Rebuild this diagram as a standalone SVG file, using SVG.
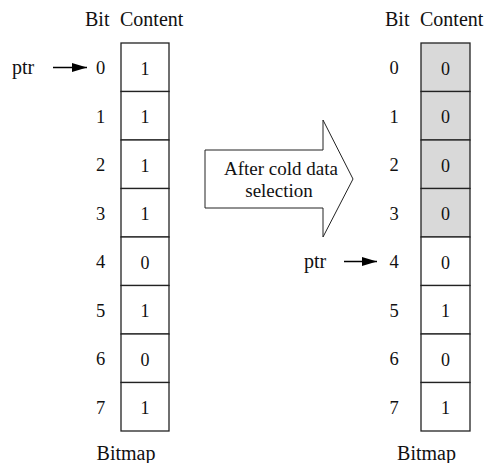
<svg xmlns="http://www.w3.org/2000/svg" width="488" height="463" viewBox="0 0 488 463" font-family="'Liberation Serif', 'Times New Roman', 'DejaVu Serif', serif">
<style>
text{font-family:'Liberation Serif','Times New Roman','DejaVu Serif',serif;fill:#111}
.hd{font-size:20px}
.lb{font-size:18.5px;text-anchor:middle}
.cv{font-size:18px;text-anchor:middle}
.cell{fill:#fff;stroke:#222;stroke-width:1.3}
.gray{fill:#d9d9d9}
.conn{stroke:#000;stroke-width:1.3;fill:none}
</style>
<defs>
<marker id="ah" viewBox="0 0 15 9" refX="15" refY="4.5" markerWidth="15" markerHeight="9" markerUnits="userSpaceOnUse" orient="auto">
<path d="M0,0 L15,4.5 L0,9 Z" fill="#000"/>
</marker>
</defs>
<rect width="488" height="463" fill="#fff"/>

<g id="left-bitmap">
<text class="hd" x="85" y="26">Bit</text>
<text class="hd" x="120" y="26">Content</text>
<rect class="cell" x="121" y="43" width="48" height="48.5"/>
<rect class="cell" x="121" y="91.5" width="48" height="48.5"/>
<rect class="cell" x="121" y="140" width="48" height="48.5"/>
<rect class="cell" x="121" y="188.5" width="48" height="48.5"/>
<rect class="cell" x="121" y="237" width="48" height="48.5"/>
<rect class="cell" x="121" y="285.5" width="48" height="48.5"/>
<rect class="cell" x="121" y="334" width="48" height="48.5"/>
<rect class="cell" x="121" y="382.5" width="48" height="48.5"/>
<text class="lb" x="100.5" y="74">0</text>
<text class="lb" x="100.5" y="122.5">1</text>
<text class="lb" x="100.5" y="171">2</text>
<text class="lb" x="100.5" y="219.5">3</text>
<text class="lb" x="100.5" y="268">4</text>
<text class="lb" x="100.5" y="316.5">5</text>
<text class="lb" x="100.5" y="365">6</text>
<text class="lb" x="100.5" y="413.5">7</text>
<text class="cv" x="145" y="74.5">1</text>
<text class="cv" x="145" y="123">1</text>
<text class="cv" x="145" y="171.5">1</text>
<text class="cv" x="145" y="220">1</text>
<text class="cv" x="145" y="268.5">0</text>
<text class="cv" x="145" y="317">1</text>
<text class="cv" x="145" y="365.5">0</text>
<text class="cv" x="145" y="414">1</text>
<text class="hd" x="126" y="460" text-anchor="middle">Bitmap</text>
</g>

<g id="right-bitmap">
<text class="hd" x="385" y="26">Bit</text>
<text class="hd" x="420" y="26">Content</text>
<rect class="cell gray" x="421" y="43" width="49" height="48.5"/>
<rect class="cell gray" x="421" y="91.5" width="49" height="48.5"/>
<rect class="cell gray" x="421" y="140" width="49" height="48.5"/>
<rect class="cell gray" x="421" y="188.5" width="49" height="48.5"/>
<rect class="cell" x="421" y="237" width="49" height="48.5"/>
<rect class="cell" x="421" y="285.5" width="49" height="48.5"/>
<rect class="cell" x="421" y="334" width="49" height="48.5"/>
<rect class="cell" x="421" y="382.5" width="49" height="48.5"/>
<text class="lb" x="394" y="74">0</text>
<text class="lb" x="394" y="122.5">1</text>
<text class="lb" x="394" y="171">2</text>
<text class="lb" x="394" y="219.5">3</text>
<text class="lb" x="394" y="268">4</text>
<text class="lb" x="394" y="316.5">5</text>
<text class="lb" x="394" y="365">6</text>
<text class="lb" x="394" y="413.5">7</text>
<text class="cv" x="445.5" y="74.5">0</text>
<text class="cv" x="445.5" y="123">0</text>
<text class="cv" x="445.5" y="171.5">0</text>
<text class="cv" x="445.5" y="220">0</text>
<text class="cv" x="445.5" y="268.5">0</text>
<text class="cv" x="445.5" y="317">1</text>
<text class="cv" x="445.5" y="365.5">0</text>
<text class="cv" x="445.5" y="414">1</text>
<text class="hd" x="426.5" y="460" text-anchor="middle">Bitmap</text>
</g>

<g id="transition-arrow">
<polygon points="205,150 323,150 323,120 353,179 323,237 323,208 205,208" fill="#fff" stroke="#222" stroke-width="1"/>
<text class="hd" x="281" y="175" text-anchor="middle" style="font-size:19px">After cold data</text>
<text class="hd" x="279" y="197" text-anchor="middle" style="font-size:19px">selection</text>
</g>

<g id="ptr-left">
<text class="hd" x="12" y="74">ptr</text>
</g>
<g id="ptr-right">
<text class="hd" x="304" y="268">ptr</text>
</g>

<g id="connectors">
<line class="conn" x1="53" y1="67.5" x2="87" y2="67.5" marker-end="url(#ah)"/>
<line class="conn" x1="344" y1="261.5" x2="377" y2="261.5" marker-end="url(#ah)"/>
</g>
</svg>
